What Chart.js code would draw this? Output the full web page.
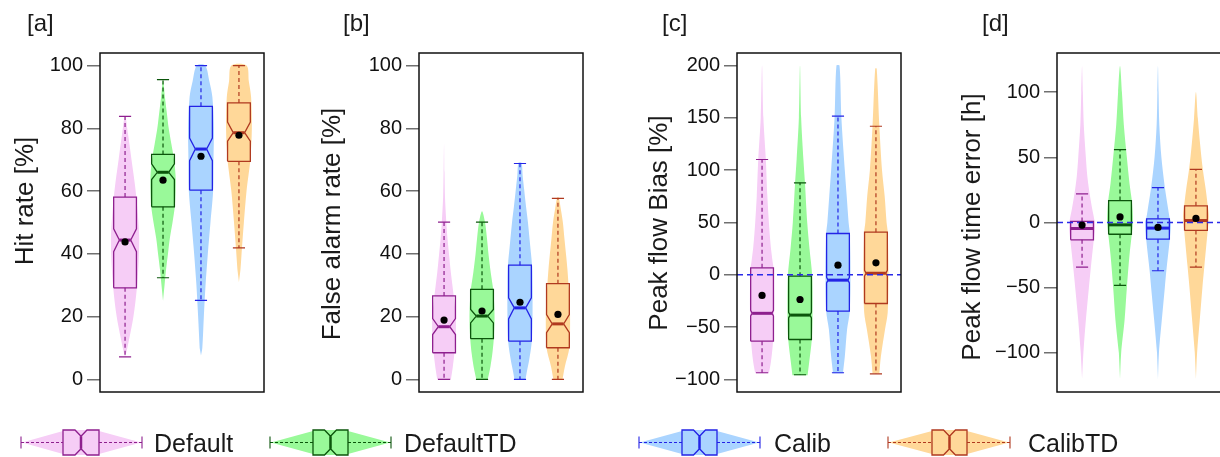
<!DOCTYPE html>
<html>
<head>
<meta charset="utf-8">
<script src="https://cdn.jsdelivr.net/npm/chart.js@4.4.1/dist/chart.umd.min.js"></script>
<style>
  body { margin: 0; background: #fff; width: 1220px; height: 457px; overflow: hidden; position: relative; }
  canvas { position: absolute; top: 0; }
</style>
</head>
<body>
<canvas id="panelA" width="300" height="457" style="left:0px"></canvas>
<canvas id="panelB" width="300" height="457" style="left:305px"></canvas>
<canvas id="panelC" width="300" height="457" style="left:615px"></canvas>
<canvas id="panelD" width="300" height="457" style="left:925px"></canvas>
<canvas id="legend" width="1220" height="57" style="left:0px; top:400px"></canvas>
<script>
// Model variants, one violin + notched box per variant in every panel
const groups = ['Default', 'DefaultTD', 'Calib', 'CalibTD'];

// Box statistics per variant:
// whisker low, Q1, notch low, median, notch high, Q3, whisker high
const hitBox = [
    [7.2, 29.2, 40.7, 44.4, 48.0, 58.1, 83.8],
    [32.4, 55.0, 63.7, 66.0, 68.7, 71.7, 95.5],
    [25.2, 60.3, 69.7, 73.4, 76.9, 87.0, 100],
    [41.9, 69.5, 75.9, 78.6, 82.0, 88.1, 100]
];
const hitMean = [43.8, 63.5, 71.1, 77.8];

const falseBox = [
    [0, 8.5, 14.3, 16.8, 19.4, 26.6, 50.1],
    [0, 13.0, 18.0, 20.2, 22.3, 28.7, 50.1],
    [0, 12.2, 19.3, 22.8, 26.0, 36.4, 68.8],
    [0, 10.1, 14.9, 17.7, 20.7, 30.5, 57.7]
];
const falseMean = [18.9, 21.8, 24.6, 20.7];

const biasBox = [
    [-93.6, -63.4, -39.4, -36.8, -34.0, 6.7, 110.2],
    [-95.5, -61.8, -41.2, -38.5, -35.8, -1.3, 87.9],
    [-93.6, -34.7, -7.8, -5.1, -2.4, 39.5, 151.6],
    [-94.6, -27.4, -1.2, 1.5, 4.2, 40.8, 142.0]
];
const biasMean = [-19.7, -23.6, 9.2, 11.5];

// timing boxes carry no notch
const timeBox = [
    [-34.2, -13.3, null, -4.6, null, 0.8, 21.9],
    [-48.2, -9.0, null, -1.8, null, 16.8, 55.9],
    [-37.0, -12.8, null, -4.3, null, 2.8, 26.8],
    [-34.2, -6.1, null, 1.5, null, 12.8, 40.8]
];
const timeMean = [-2.0, 4.3, -3.8, 3.1];

// Violin outlines: [value, half width in category units], bottom to top
const hitViolin = [
    [[7, 0], [10, 0.06], [20, 0.22], [29, 0.31], [38, 0.36], [46, 0.37], [55, 0.32], [62, 0.26], [70, 0.17], [78, 0.08], [84, 0]],
    [[25, 0], [30, 0.04], [35, 0.08], [40, 0.13], [45, 0.18], [50, 0.25], [55, 0.31], [60, 0.33], [65, 0.33], [70, 0.29], [75, 0.22], [80, 0.15], [85, 0.1], [90, 0.05], [95.5, 0]],
    [[7.6, 0], [10, 0.035], [20, 0.075], [30, 0.12], [40, 0.18], [50, 0.25], [60, 0.32], [70, 0.33], [80, 0.34], [90, 0.3], [95, 0.22], [100, 0.11]],
    [[31, 0], [35, 0.04], [42, 0.08], [50, 0.13], [60, 0.2], [70, 0.3], [80, 0.34], [90, 0.32], [95, 0.26], [100, 0.2]]
];
const falseViolin = [
    [[0, 0.18], [4, 0.23], [8, 0.27], [14, 0.31], [20, 0.31], [26, 0.26], [30, 0.22], [34, 0.18], [40, 0.13], [45, 0.09], [50, 0.06], [58, 0.025], [66, 0.012], [75, 0]],
    [[0, 0.15], [4, 0.22], [8, 0.27], [13, 0.31], [20, 0.33], [28, 0.3], [34, 0.23], [40, 0.17], [45, 0.13], [50, 0.08], [53.6, 0]],
    [[0, 0.145], [3, 0.19], [6, 0.24], [12, 0.31], [20, 0.33], [30, 0.33], [36, 0.32], [42.5, 0.27], [50, 0.21], [55, 0.16], [60.5, 0.11], [65, 0.07], [69, 0.04]],
    [[0, 0.12], [4, 0.18], [10, 0.3], [18, 0.32], [25, 0.31], [30, 0.28], [35, 0.25], [39, 0.22], [45, 0.17], [50, 0.13], [54, 0.08], [58, 0.02]]
];
const biasViolin = [
    [[-94, 0.18], [-84, 0.23], [-68, 0.28], [-50, 0.31], [-20, 0.32], [7, 0.3], [12, 0.28], [27, 0.23], [50, 0.18], [75, 0.14], [110, 0.1], [150, 0.035], [200, 0]],
    [[-96, 0.2], [-84, 0.24], [-62, 0.31], [-40, 0.33], [-1, 0.32], [25, 0.25], [50, 0.19], [88, 0.13], [110, 0.09], [150, 0.03], [200, 0]],
    [[-94, 0.13], [-78, 0.18], [-52, 0.24], [-35, 0.31], [0, 0.33], [40, 0.31], [50, 0.28], [75, 0.23], [100, 0.18], [150, 0.09], [200, 0.04]],
    [[-94, 0.09], [-78, 0.13], [-52, 0.24], [-36, 0.31], [0, 0.33], [41, 0.31], [50, 0.28], [75, 0.23], [100, 0.16], [142, 0.09], [197, 0.02]]
];
const timeViolin = [
    [[-120, 0], [-100, 0.035], [-75, 0.1], [-50, 0.18], [-35, 0.23], [-13, 0.31], [-5, 0.34], [1, 0.33], [10, 0.27], [22, 0.2], [35, 0.14], [50, 0.1], [75, 0.045], [100, 0.02], [120, 0]],
    [[-120, 0], [-100, 0.03], [-75, 0.12], [-50, 0.18], [-25, 0.25], [-9, 0.31], [0, 0.34], [10, 0.33], [17, 0.31], [30, 0.25], [50, 0.18], [75, 0.1], [100, 0.05], [120, 0]],
    [[-120, 0], [-100, 0.025], [-75, 0.1], [-50, 0.18], [-37, 0.22], [-13, 0.31], [0, 0.34], [3, 0.31], [10, 0.27], [27, 0.18], [50, 0.09], [75, 0.035], [100, 0.015], [120, 0]],
    [[-120, 0], [-100, 0.03], [-75, 0.1], [-50, 0.17], [-34, 0.22], [-6, 0.31], [5, 0.34], [13, 0.31], [25, 0.26], [41, 0.18], [60, 0.11], [80, 0.05], [100, 0]]
];

// Y axis ticks per panel
const hitTicks = [0, 20, 40, 60, 80, 100];
const falseTicks = [0, 20, 40, 60, 80, 100];
const biasTicks = [-100, -50, 0, 50, 100, 150, 200];
const timeTicks = [-100, -50, 0, 50, 100];

// Styling
const violinFill = ['#f6cdf6', '#99f999', '#aad4ff', '#ffd899'];
const boxLine = ['#8e1f8e', '#0b550b', '#2323e6', '#b0391f'];
const FONT = '"Liberation Sans", Arial, Helvetica, sans-serif';
const BOX_HW = 0.3;     // half box width (category units)
const CAP_HW = 0.16;    // half whisker cap width
const X_MIN = 0.34, X_MAX = 4.66;

const panels = [
    { id: 'panelA', left: 0, frameLeft: 100, label: '[a]', labelX: 27, title: 'Hit rate [%]', titleX: 26, titleY: 201,
      box: hitBox, mean: hitMean, violin: hitViolin, ticks: hitTicks, min: -4, max: 104, zero: false, notchFrac: 0.5 },
    { id: 'panelB', left: 305, frameLeft: 419, label: '[b]', labelX: 343, title: 'False alarm rate [%]', titleX: 333, titleY: 224,
      box: falseBox, mean: falseMean, violin: falseViolin, ticks: falseTicks, min: -4, max: 104, zero: false, notchFrac: 0.5 },
    { id: 'panelC', left: 615, frameLeft: 737, label: '[c]', labelX: 662, title: 'Peak flow Bias [%]', titleX: 660, titleY: 223,
      box: biasBox, mean: biasMean, violin: biasViolin, ticks: biasTicks, min: -112, max: 212, zero: true, notchFrac: 0.87 },
    { id: 'panelD', left: 925, frameLeft: 1057, label: '[d]', labelX: 982, title: 'Peak flow time error [h]', titleX: 973, titleY: 227,
      box: timeBox, mean: timeMean, violin: timeViolin, ticks: timeTicks, min: -130, max: 130, zero: true, notchFrac: 1 }
];

// frame, panel letter and rotated axis title
const panelDecor = {
    id: 'panelDecor',
    afterDraw(chart, args, opts) {
        const ctx = chart.ctx;
        const a = chart.chartArea;
        ctx.save();
        ctx.strokeStyle = '#111';
        ctx.lineWidth = 1.5;
        ctx.strokeRect(a.left, a.top, a.right - a.left, a.bottom - a.top);

        ctx.fillStyle = '#1a1a1a';
        ctx.font = '24px ' + FONT;
        ctx.textAlign = 'left';
        ctx.textBaseline = 'middle';
        ctx.fillText(opts.label, opts.labelX, 24);

        ctx.translate(opts.titleX, opts.titleY);
        ctx.rotate(-Math.PI / 2);
        ctx.font = '26px ' + FONT;
        ctx.textAlign = 'center';
        ctx.fillText(opts.title, 0, 0);
        ctx.restore();
    }
};

function violinPoints(cat, outline) {
    const right = outline.map(([y, w]) => ({ x: cat + w, y }));
    const left = outline.slice().reverse().filter(([, w]) => w > 0).map(([y, w]) => ({ x: cat - w, y }));
    return right.concat(left);
}

function boxPoints(cat, s, frac) {
    const [, q1, nlo, med, nhi, q3] = s;
    const w = BOX_HW, n = BOX_HW * frac;
    if (nlo === null) {
        return [
            { x: cat - w, y: q1 }, { x: cat + w, y: q1 }, { x: cat + w, y: q3 },
            { x: cat - w, y: q3 }, { x: cat - w, y: q1 }
        ];
    }
    return [
        { x: cat - w, y: q1 }, { x: cat + w, y: q1 }, { x: cat + w, y: nlo }, { x: cat + n, y: med },
        { x: cat + w, y: nhi }, { x: cat + w, y: q3 }, { x: cat - w, y: q3 }, { x: cat - w, y: nhi },
        { x: cat - n, y: med }, { x: cat - w, y: nlo }, { x: cat - w, y: q1 }
    ];
}

function buildDatasets(p) {
    const sets = [];
    sets.push({
        type: 'scatter', order: 0,
        data: p.mean.map((m, i) => ({ x: i + 1, y: m })),
        pointRadius: 3.6, backgroundColor: '#000', borderWidth: 0
    });
    if (p.zero) {
        sets.push({
            order: 1,
            data: [{ x: X_MIN, y: 0 }, { x: X_MAX, y: 0 }],
            borderColor: '#2a2ae8', borderWidth: 1.6, borderDash: [6, 4], pointRadius: 0, fill: false
        });
    }
    groups.forEach((g, i) => {
        const cat = i + 1;
        const s = p.box[i];
        const [lo, q1, nlo, med, , q3, hi] = s;
        const medHW = BOX_HW * p.notchFrac;
        sets.push({
            label: g, order: 2,
            data: boxPoints(cat, s, p.notchFrac),
            borderColor: boxLine[i], borderWidth: 1.3, pointRadius: 0, fill: false, tension: 0
        });
        sets.push({
            order: 2,
            data: [{ x: cat - medHW, y: med }, { x: cat + medHW, y: med }],
            borderColor: boxLine[i], borderWidth: 3, borderCapStyle: 'butt', pointRadius: 0, fill: false
        });
        sets.push({
            order: 2,
            data: [{ x: cat, y: q3 }, { x: cat, y: hi }, { x: cat, y: null }, { x: cat, y: q1 }, { x: cat, y: lo }],
            borderColor: boxLine[i], borderWidth: 1.2, borderDash: [4, 3], pointRadius: 0, fill: false, spanGaps: false
        });
        sets.push({
            order: 2,
            data: [{ x: cat - CAP_HW, y: hi }, { x: cat + CAP_HW, y: hi }, { x: cat, y: null },
                   { x: cat - CAP_HW, y: lo }, { x: cat + CAP_HW, y: lo }],
            borderColor: boxLine[i], borderWidth: 1.2, pointRadius: 0, fill: false, spanGaps: false
        });
        sets.push({
            order: 3,
            data: violinPoints(cat, p.violin[i]),
            backgroundColor: violinFill[i], borderWidth: 0, pointRadius: 0,
            fill: 'shape', tension: 0.3
        });
    });
    return sets;
}

panels.forEach(p => {
    const canvas = document.getElementById(p.id);
    const axisWidth = p.frameLeft - p.left;
    new Chart(canvas, {
        type: 'line',
        data: { datasets: buildDatasets(p) },
        options: {
            responsive: false,
            animation: false,
            events: [],
            layout: { padding: { top: 53, bottom: 65, left: 0, right: canvas.width - axisWidth - 164 } },
            scales: {
                x: { type: 'linear', min: X_MIN, max: X_MAX, display: false },
                y: {
                    type: 'linear', min: p.min, max: p.max,
                    afterFit: s => { s.width = axisWidth; },
                    afterBuildTicks: s => { s.ticks = p.ticks.map(v => ({ value: v })); },
                    border: { display: false },
                    grid: { drawOnChartArea: false, tickLength: 13, color: '#707070', lineWidth: 1.5 },
                    ticks: {
                        padding: 4, color: '#111', autoSkip: false,
                        font: { family: FONT, size: 20 },
                        callback: v => String(v).replace('-', '\u2212')
                    }
                }
            },
            plugins: {
                legend: { display: false },
                tooltip: { enabled: false },
                panelDecor: { label: p.label, labelX: p.labelX - p.left, title: p.title, titleX: p.titleX - p.left, titleY: p.titleY }
            }
        },
        plugins: [panelDecor]
    });
});

// Legend strip: horizontal violin + notched box glyphs
const legendItems = [
    // whisker start, box start, box end, whisker end, text x
    [21, 63, 99, 142, 154],
    [270, 313, 348, 391, 404],
    [639, 682, 717, 760, 774],
    [888, 932, 967, 1010, 1028]
];

function drawLegend() {
    const ctx = document.getElementById('legend').getContext('2d');
    const cy = 42.5, bh = 12.5, vh = 11.5;
    legendItems.forEach(([ws, bs, be, we, tx], i) => {
        const mid = (bs + be) / 2;
        ctx.fillStyle = violinFill[i];
        ctx.beginPath();
        ctx.moveTo(ws + 1, cy);
        ctx.lineTo(bs, cy - vh);
        ctx.lineTo(be, cy - vh);
        ctx.lineTo(we - 1, cy);
        ctx.lineTo(be, cy + vh);
        ctx.lineTo(bs, cy + vh);
        ctx.closePath();
        ctx.fill();
        ctx.fillRect(bs, cy - bh, be - bs, 2 * bh);

        ctx.strokeStyle = boxLine[i];
        ctx.lineWidth = 1.1;
        ctx.setLineDash([3, 2]);
        ctx.beginPath();
        ctx.moveTo(ws, cy); ctx.lineTo(bs, cy);
        ctx.moveTo(be, cy); ctx.lineTo(we, cy);
        ctx.stroke();
        ctx.setLineDash([]);
        ctx.beginPath();
        ctx.moveTo(ws, cy - 6); ctx.lineTo(ws, cy + 6);
        ctx.moveTo(we, cy - 6); ctx.lineTo(we, cy + 6);
        ctx.stroke();

        ctx.lineWidth = 1.3;
        ctx.beginPath();
        ctx.moveTo(bs, cy - bh);
        ctx.lineTo(mid - 6, cy - bh);
        ctx.lineTo(mid, cy - bh / 2);
        ctx.lineTo(mid + 6, cy - bh);
        ctx.lineTo(be, cy - bh);
        ctx.lineTo(be, cy + bh);
        ctx.lineTo(mid + 6, cy + bh);
        ctx.lineTo(mid, cy + bh / 2);
        ctx.lineTo(mid - 6, cy + bh);
        ctx.lineTo(bs, cy + bh);
        ctx.closePath();
        ctx.stroke();
        ctx.lineWidth = 2.5;
        ctx.beginPath();
        ctx.moveTo(mid, cy - bh / 2); ctx.lineTo(mid, cy + bh / 2);
        ctx.stroke();

        ctx.fillStyle = '#1a1a1a';
        ctx.font = '25px ' + FONT;
        ctx.textAlign = 'left';
        ctx.textBaseline = 'alphabetic';
        ctx.fillText(groups[i], tx, 52);
    });
}
drawLegend();
</script>
</body>
</html>
